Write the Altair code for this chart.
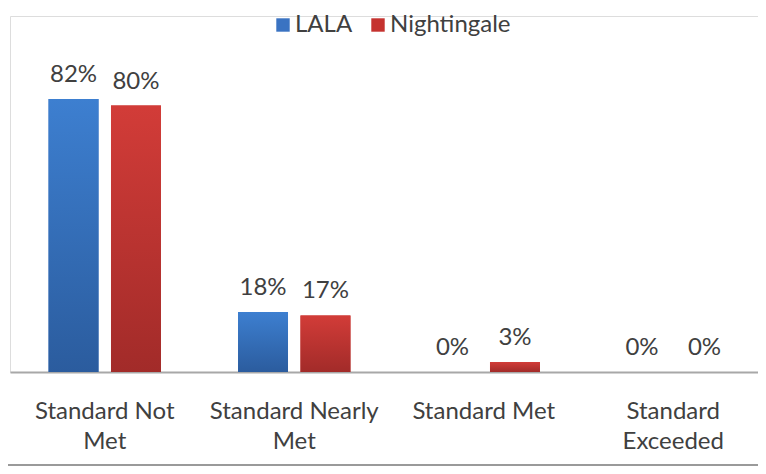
import altair as alt
import pandas as pd

categories = ["Standard Not Met", "Standard Nearly Met", "Standard Met", "Standard Exceeded"]
label_lines = [["Standard Not", "Met"], ["Standard Nearly", "Met"], ["Standard Met"], ["Standard", "Exceeded"]]
series = ["LALA", "Nightingale"]
lala = [82, 18, 0, 0]
nightingale = [80, 17, 3, 0]

rows = []
for i, c in enumerate(categories):
    rows.append({"category": c, "series": "LALA", "value": lala[i]})
    rows.append({"category": c, "series": "Nightingale", "value": nightingale[i]})
df = pd.DataFrame(rows)

FONT = "Lato"
TXT = "#404040"

expr = ""
for c, lines in zip(categories, label_lines):
    arr = "[" + ",".join("'" + l + "'" for l in lines) + "]"
    expr += f"datum.value == '{c}' ? {arr} : "
expr += "datum.value"

x_enc = alt.X("category:N", sort=categories, title=None,
              scale=alt.Scale(paddingInner=0, paddingOuter=0, range=[0, 758]),
              axis=alt.Axis(labelExpr=expr, labelFont=FONT, labelFontSize=24, labelColor=TXT,
                            labelAngle=0, labelPadding=27, labelLineHeight=30, ticks=False,
                            domainColor="#a8a8a8", domainWidth=2, labelLimit=300))
xo_enc = alt.XOffset("series:N", sort=series,
                     scale=alt.Scale(paddingInner=0.2, paddingOuter=0.6175))
y_enc = alt.Y("value:Q", title=None,
              scale=alt.Scale(domain=[0, 106.9], nice=False), axis=None)

base = alt.Chart(df)

legend_bars = base.mark_bar().encode(
    x=x_enc, xOffset=xo_enc, y=y_enc,
    color=alt.Color("series:N", sort=series, title=None,
                    scale=alt.Scale(domain=series, range=["#3a73c2", "#c5322f"]),
                    legend=alt.Legend(orient="none", legendX=261, legendY=-3, direction="horizontal",
                                      symbolType="square", symbolSize=180, symbolStrokeWidth=0,
                                      labelFont=FONT, labelFontSize=24, labelColor=TXT,
                                      labelOffset=0, columnPadding=13, padding=0)),
)

grad_blue = alt.LinearGradient(gradient="linear", x1=0, y1=0, x2=0, y2=1,
                               stops=[alt.GradientStop(offset=0, color="#3d7fd0"),
                                      alt.GradientStop(offset=1, color="#2b5c9e")])
grad_red = alt.LinearGradient(gradient="linear", x1=0, y1=0, x2=0, y2=1,
                              stops=[alt.GradientStop(offset=0, color="#d23c38"),
                                     alt.GradientStop(offset=1, color="#a22b29")])

grad_bars = base.mark_bar().encode(
    x=x_enc, xOffset=xo_enc, y=y_enc,
    fill=alt.condition(alt.datum.series == "LALA", alt.value(grad_blue), alt.value(grad_red)),
)

labels = base.transform_calculate(lbl="datum.value + '%'").mark_text(
    font=FONT, fontSize=24, color=TXT, baseline="alphabetic", dy=-17
).encode(x=x_enc, xOffset=xo_enc, y=y_enc, text="lbl:N")

border = alt.Chart(pd.DataFrame({"a": [0]})).mark_rule(color="#9a9a9a", strokeWidth=2).encode(
    x=alt.value(-12), x2=alt.value(800), y=alt.value(449)
)

chart = alt.layer(legend_bars, grad_bars, labels, border).properties(
    width=748, height=356,
    autosize=alt.AutoSizeParams(type="none"),
    padding={"left": 2, "top": 8, "right": 0, "bottom": 94},
).configure_view(stroke=None).configure(background="white")

chart.save("out.html", embed_options={"renderer": "svg", "actions": False})
